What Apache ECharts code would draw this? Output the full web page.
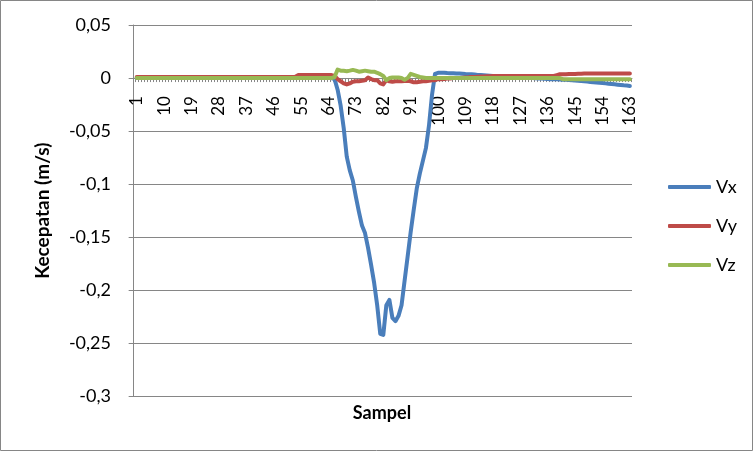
<!DOCTYPE html>
<html><head><meta charset="utf-8">
<script src="https://cdn.jsdelivr.net/npm/echarts@6/dist/echarts.min.js"></script>
<style>html,body{margin:0;padding:0;background:#fff}#c{width:753px;height:451px}</style>
</head><body><div id="c"></div>
<script>
// Sampel 1..163
const Vx = [
 0,0,0,0,0,0,0,0,0,0,0,0,0,
 0,0,0,0,0,0,0,0,0,0,0,0,0,
 0,0,0,0,0,0,0,0,0,0,0,0,0,
 0,0,0,0,0,0,0,0,0,0,0,0,0,
 0,0,0,0,0,0,0,0,0,0,0,0,0,
 -0.001,-0.011,-0.026,-0.047,-0.074,-0.087,-0.0965,-0.112,-0.126,-0.139,
 -0.146,-0.16,-0.176,-0.193,-0.214,-0.241,-0.242,-0.214,-0.209,-0.226,
 -0.229,-0.224,-0.214,-0.191,-0.168,-0.145,-0.124,-0.104,-0.09,-0.078,
 -0.066,-0.045,-0.016,0.004,0.005,
 0.005,0.005,0.0047,0.0046,0.0045,0.0043,0.0042,0.004,0.0038,0.0037,
 0.0035,0.0033,0.003,0.0028,0.0026,0.0024,0.0022,0.002,0.0018,0.0016,
 0.0015,0.0013,0.0011,0.001,0.0008,0.0006,0.0005,0.0003,0.0002,0,
 0,-0.0002,-0.0003,-0.0005,-0.0006,-0.0008,-0.001,-0.001,-0.0012,-0.0013,
 -0.0015,-0.0017,-0.0019,-0.0021,-0.0023,-0.0025,-0.0028,-0.003,-0.0033,-0.0036,
 -0.0039,-0.0042,-0.0045,-0.0047,-0.005,-0.0053,-0.0056,-0.0059,-0.0062,-0.0065,
 -0.0068,-0.007,-0.0074
];
const Vy = [
 0.001,0.001,0.001,0.001,0.001,0.001,0.001,0.001,0.001,0.001,
 0.001,0.001,0.001,0.001,0.001,0.001,0.001,0.001,0.001,0.001,
 0.001,0.001,0.001,0.001,0.001,0.001,0.001,0.001,0.001,0.001,
 0.001,0.001,0.001,0.001,0.001,0.001,0.001,0.001,0.001,0.001,
 0.001,0.001,0.001,0.001,0.001,0.001,0.001,0.001,0.001,0.001,
 0.001,0.001,0.001,
 0.0028,0.0028,0.0028,0.0028,0.0028,0.0028,0.0028,0.0028,0.0028,0.0028,0.0028,0.0028,
 0.002,-0.001,-0.003,-0.005,-0.006,-0.005,-0.0035,-0.003,-0.003,-0.0025,
 -0.002,0.0005,-0.001,-0.002,-0.002,-0.005,-0.006,-0.002,-0.003,-0.0035,
 -0.003,-0.003,-0.003,-0.0028,-0.0025,-0.003,-0.004,-0.004,-0.0035,-0.003,
 -0.003,-0.0025,-0.002,-0.002,-0.001,
 -0.001,-0.0008,-0.0005,-0.0003,0,0,0,0.0003,0.0005,0.0007,
 0.001,0.001,0.0012,0.0014,0.0015,0.0017,0.0018,0.002,0.002,0.002,
 0.002,0.002,0.002,0.002,0.002,0.002,0.002,0.002,0.002,
 0.002,0.002,0.002,0.002,0.002,0.002,0.002,0.002,0.002,
 0.0028,0.0036,0.0037,0.0037,0.0038,0.0038,0.0039,0.004,0.004,0.0042,0.0043,
 0.0043,0.0043,0.0043,0.0043,0.0043,0.0043,0.0043,0.0043,
 0.0043,0.0043,0.0043,0.0043,0.0043,0.0043
];
const Vz = [
 0,0,0,0,0,0,0,0,0,0,0,0,0,
 0,0,0,0,0,0,0,0,0,0,0,0,0,
 0,0,0,0,0,0,0,0,0,0,0,0,0,
 0,0,0,0,0,0,0,0,0,0,0,0,0,
 0,0,0,0,0,0,0,0,0,0,0,0,0,
 0.001,0.008,0.007,0.0068,0.0065,0.007,0.0077,0.007,0.006,0.0065,
 0.007,0.0065,0.006,0.006,0.005,0.0037,0.002,-0.002,0,0.0005,
 0.0005,0.0005,0,-0.0015,0,0.004,0.003,0.002,0.001,0.0005,
 0,0,0,0,0,
 0,0,0,0,0,0,0,0,0,0,
 0,0,0,0,0,0,0,0,0,0,
 0,0,0,0,0,0,0,0,0,0,
 0,0,0,0,0,0,0,0,0,0,
 -0.001,-0.001,-0.001,-0.001,-0.001,-0.001,-0.001,-0.001,-0.001,-0.001,
 -0.001,-0.001,-0.001,-0.001,-0.001,-0.001,-0.001,-0.001,-0.001,-0.001,
 -0.001,-0.001,-0.001
];
const seriesNames = ['Vx', 'Vy', 'Vz'];
const samples = Vx.map((_, i) => i + 1);           // sample numbers 1..163
const xTickLabels = [1, 10, 19, 28, 37, 46, 55, 64, 73, 82, 91, 100, 109, 118, 127, 136, 145, 154, 163];
const yTicks = { min: -0.3, max: 0.05, interval: 0.05 };
const yTitle = 'Kecepatan (m/s)';
const xTitle = 'Sampel';

const FONT = 'Lato';
const colors = ['#4A7EBB', '#BE4B48', '#98B954'];
const GRID = { left: 130, right: 121, top: 25, bottom: 54.5 };
const plotH = 451 - GRID.top - GRID.bottom;
const zeroOffset = -plotH * (0 - yTicks.min) / (yTicks.max - yTicks.min);
const tickBounds = [0].concat(samples).map(s => s + 0.5);

const chart = echarts.init(document.getElementById('c'), null, { renderer: 'canvas' });
const mk = (name, data, i) => ({
  name, type: 'line', data: data.map((v, k) => [samples[k], v]), symbol: 'none', smooth: false,
  lineStyle: { width: 4, color: colors[i], cap: 'round', join: 'round' },
  itemStyle: { color: colors[i] }, animation: false, clip: true
});
chart.setOption({
  animation: false,
  textStyle: { fontFamily: FONT },
  grid: Object.assign({ containLabel: false }, GRID),
  xAxis: {
    type: 'value', min: -1.2, max: 163.7, position: 'bottom', offset: zeroOffset,
    axisLine: { onZero: false, lineStyle: { color: '#868686', width: 1 } },
    axisTick: { show: true, length: 4, customValues: tickBounds, lineStyle: { color: '#868686' } },
    axisLabel: { rotate: 90, fontSize: 17, color: '#000', margin: 18, fontFamily: FONT,
      customValues: xTickLabels, showMinLabel: true, showMaxLabel: true, hideOverlap: false },
    splitLine: { show: false }
  },
  yAxis: {
    type: 'value', min: yTicks.min, max: yTicks.max, interval: yTicks.interval,
    name: yTitle, nameLocation: 'middle', nameRotate: 90, nameGap: 78,
    nameTextStyle: { fontSize: 19, fontWeight: 'bold', color: '#000', fontFamily: FONT },
    axisLine: { show: true, lineStyle: { color: '#868686' } },
    axisTick: { show: true, length: 5, lineStyle: { color: '#868686' } },
    axisLabel: { fontSize: 18, color: '#000', margin: 19, fontFamily: FONT,
      formatter: v => String(Math.round(v * 100) / 100).replace('.', ',') },
    splitLine: { show: true, lineStyle: { color: '#868686', width: 1 } }
  },
  legend: {
    orient: 'vertical', left: 663, top: 173, itemWidth: 43, itemHeight: 4, itemGap: 21,
    icon: 'roundRect', itemTextGap: 5,
    textStyle: { fontSize: 18, color: '#000', fontFamily: FONT },
    data: seriesNames
  },
  graphic: [
    { type: 'rect', shape: { x: 0.5, y: 0.5, width: 752, height: 450 },
      style: { fill: null, stroke: '#868686', lineWidth: 1 }, silent: true },
    { type: 'text', x: 382, y: 413, style: { text: xTitle, fontSize: 18, fontWeight: 'bold',
      fontFamily: FONT, fill: '#000', textAlign: 'center', textVerticalAlign: 'middle' } }
  ],
  series: [mk(seriesNames[0], Vx, 0), mk(seriesNames[1], Vy, 1), mk(seriesNames[2], Vz, 2)]
});
</script></body></html>
